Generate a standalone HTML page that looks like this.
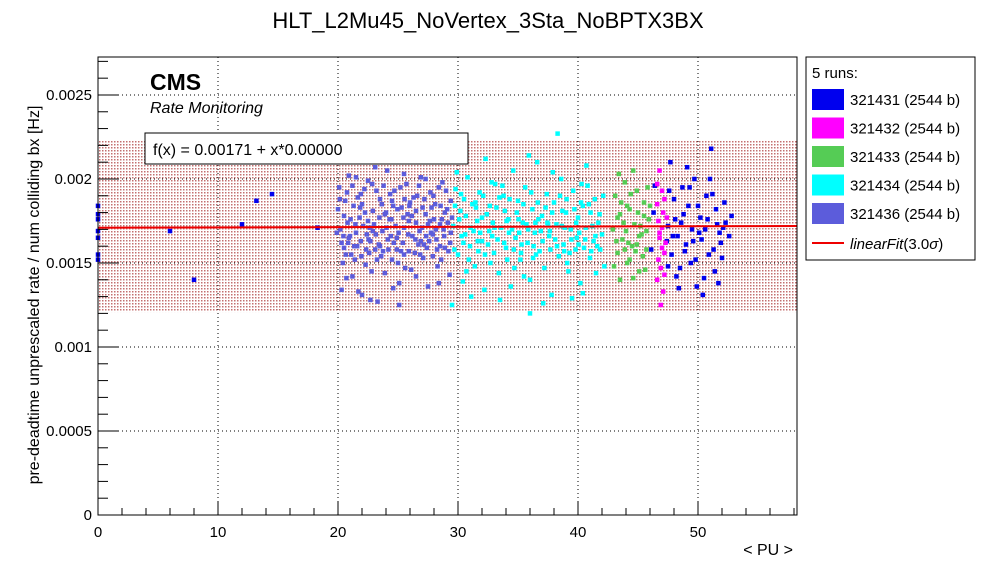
<!DOCTYPE html>
<html><head><meta charset="utf-8"><style>
html,body{margin:0;padding:0;background:#fff;}
svg{display:block;font-family:"Liberation Sans",sans-serif;}
</style></head><body>
<svg id="chart" width="996" height="572" viewBox="0 0 996 572">
<defs>
<pattern id="dots" width="3" height="3" patternUnits="userSpaceOnUse"><rect width="1.5" height="1.5" fill="#a33"/></pattern>
</defs>
<rect width="996" height="572" fill="#fff"/>
<text x="488" y="28" font-size="22" text-anchor="middle">HLT_L2Mu45_NoVertex_3Sta_NoBPTX3BX</text>
<g id="grid"></g>
<g id="band"></g>
<g id="marks"></g>
<g id="axes"></g>
<rect x="98" y="57" width="699" height="458" fill="none" stroke="#000"/>
<text x="150" y="90" font-size="23" font-weight="bold">CMS</text>
<text x="150" y="113" font-size="16" font-style="italic">Rate Monitoring</text>
<g><rect x="145" y="133" width="323" height="31" fill="#fff" stroke="#000"/>
<text x="153" y="155" font-size="16">f(x) = 0.00171 + x*0.00000</text></g>
<text transform="translate(39,295) rotate(-90)" font-size="16" text-anchor="middle">pre-deadtime unprescaled rate / num colliding bx [Hz]</text>
<text x="793" y="555" font-size="16" text-anchor="end">&lt; PU &gt;</text>
<g id="legend">
<rect x="806" y="57" width="169" height="203" fill="#fff" stroke="#000"/>
<text x="812" y="78" font-size="15">5 runs:</text>
</g>
</svg>
<script>
const xMin=0,xMax=58.25,yMin=0,yMax=2.726;
const xTicks=[0,10,20,30,40,50];
const yTicks=[0,0.5,1,1.5,2,2.5];
const yTickLabels=["0","0.0005","0.001","0.0015","0.002","0.0025"];
const runNames=["321431 (2544 b)","321432 (2544 b)","321433 (2544 b)","321434 (2544 b)","321436 (2544 b)"];
const runColors=["#0000ee","#ff00ff","#55cc55","#00ffff","#5c5cdb"];
const fitIntercept=1.71, fitSlope=0.0, fitBandLow=1.208, fitBandHigh=2.226;
// rates in units of 1e-3 Hz, flat [pu, rate, pu, rate ...]
const pts436=[20.1,1.95,20.3,1.62,20.5,1.78,20.7,1.41,20.9,2.02,21.1,1.55,21.3,1.84,21.5,1.68,21.7,1.33,21.9,1.91,22.1,1.72,22.3,1.49,22.5,1.99,22.7,1.63,22.9,1.81,23.1,1.58,23.3,1.27,23.5,1.88,23.7,1.69,23.9,1.44,24.1,2.05,24.3,1.76,24.5,1.52,24.7,1.93,24.9,1.65,25.1,1.38,25.3,1.83,25.5,1.71,25.7,1.97,25.9,1.57,26.1,1.46,26.3,1.89,26.5,1.74,26.7,1.61,26.9,2.01,27.1,1.53,27.3,1.79,27.5,1.36,27.7,1.92,27.9,1.67,28.1,1.85,28.3,1.48,28.5,1.73,28.7,1.98,28.9,1.59,29.1,1.82,29.3,1.43,20.2,1.70,20.6,1.87,21.0,1.66,21.4,1.52,21.8,1.77,22.2,1.94,22.6,1.56,23.0,1.73,23.4,1.61,23.8,1.96,24.2,1.58,24.6,1.84,25.0,1.50,25.4,1.62,25.8,1.79,26.2,1.66,26.6,1.90,27.0,1.71,27.4,1.59,27.8,1.83,28.2,1.64,28.6,1.52,29.0,1.93,29.4,1.68,20.4,1.50,20.8,1.74,21.2,1.96,21.6,1.60,22.0,1.85,22.4,1.67,22.8,1.45,23.2,1.93,23.6,1.54,24.0,1.80,24.4,1.66,24.8,1.72,25.2,1.95,25.6,1.47,26.0,1.86,26.4,1.56,26.8,1.69,27.2,1.88,27.6,1.63,28.0,1.76,28.4,1.95,28.8,1.70,29.2,1.57,20.0,1.82,21.2,1.42,22.0,1.31,23.1,2.07,24.6,1.35,25.5,2.03,26.5,1.42,27.3,2.00,28.4,1.38,29.5,1.77,20.5,1.59,21.5,2.01,22.5,1.75,23.5,1.60,24.5,1.87,25.5,1.55,26.5,1.81,27.5,1.73,28.5,1.60,29.4,1.87,20.9,1.65,21.9,1.63,22.9,1.69,23.9,1.79,24.9,1.58,25.9,1.75,26.9,1.63,27.9,1.54,28.9,1.80,20.3,1.34,22.7,1.28,25.1,1.25,19.9,1.68,
20.15,1.88,20.45,1.66,20.75,1.92,21.05,1.76,21.35,1.60,21.65,1.89,21.95,1.54,22.25,1.80,22.55,1.64,22.85,1.97,23.15,1.67,23.45,1.77,23.75,1.57,24.05,1.71,24.35,1.91,24.65,1.62,24.95,1.82,25.25,1.57,25.55,1.88,25.85,1.67,26.15,1.78,26.45,1.64,26.75,1.96,27.05,1.83,27.35,1.66,27.65,1.75,27.95,1.90,28.25,1.58,28.55,1.84,28.85,1.66,29.15,1.74,20.65,1.55,21.45,1.73,22.35,1.58,23.25,1.52,24.15,1.64,25.05,1.68,25.95,1.84,26.85,1.55,27.75,1.68,28.65,1.76,29.35,1.62,21.85,1.83,23.65,1.85,25.45,1.77,27.15,1.61,28.15,1.70,20.85,1.62,22.65,1.71,24.45,1.76];
const pts434=[29.6,1.72,29.8,1.94,30.0,1.55,30.2,1.81,30.4,1.39,30.6,1.67,30.8,2.01,31.0,1.60,31.2,1.85,31.4,1.48,31.6,1.75,31.8,1.92,32.0,1.63,32.2,1.34,32.4,1.79,32.6,1.69,32.8,1.98,33.0,1.56,33.2,1.83,33.4,1.44,33.6,1.71,33.8,1.90,34.0,1.59,34.2,1.76,34.4,1.36,34.6,2.05,34.8,1.65,35.0,1.87,35.2,1.52,35.4,1.74,35.6,1.95,35.8,1.62,36.0,1.40,36.2,1.82,36.4,1.68,36.6,2.10,36.8,1.57,37.0,1.78,37.2,1.47,37.4,1.91,37.6,1.66,37.8,1.31,38.0,1.86,38.2,1.73,38.4,1.54,38.6,2.00,38.8,1.61,39.0,1.80,39.2,1.45,39.4,1.70,39.6,1.93,39.8,1.58,40.0,1.77,40.2,1.38,40.4,1.84,40.6,1.64,40.8,1.96,41.0,1.53,41.2,1.72,41.4,1.88,41.6,1.60,41.8,1.79,42.0,1.67,42.2,1.48,29.7,1.58,30.1,1.76,30.5,1.88,30.9,1.52,31.3,1.69,31.7,1.57,32.1,1.90,32.5,1.61,32.9,1.74,33.3,1.64,33.7,1.96,34.1,1.52,34.5,1.70,34.9,1.80,35.3,1.61,35.7,1.73,36.1,1.92,36.5,1.55,36.9,1.69,37.3,1.83,37.7,1.58,38.1,1.64,38.5,1.90,38.9,1.71,39.3,1.56,39.7,1.82,40.1,1.68,40.5,1.59,40.9,1.85,41.3,1.63,41.7,1.74,42.1,1.90,29.9,2.04,31.1,1.30,32.3,2.12,33.5,1.28,34.7,1.47,35.9,2.14,37.1,1.26,38.3,2.27,39.5,1.29,40.7,2.08,30.3,1.66,31.5,1.83,32.7,1.50,33.9,1.81,35.1,1.68,36.3,1.60,37.5,1.73,38.7,1.81,39.9,1.65,41.1,1.57,30.7,1.45,32.0,1.77,33.1,1.97,34.3,1.88,35.5,1.42,36.7,1.76,37.9,2.04,39.1,1.50,40.3,1.97,41.5,1.44,29.5,1.25,36.0,1.20,40.4,1.32,
29.75,1.84,30.25,1.91,30.65,1.78,31.05,1.71,31.45,1.86,31.85,1.68,32.25,1.55,32.65,1.84,33.05,1.71,33.45,1.89,33.85,1.62,34.25,1.68,34.65,1.58,35.05,1.76,35.45,1.85,35.85,1.70,36.25,1.53,36.65,1.86,37.05,1.63,37.45,1.74,37.85,1.80,38.25,1.60,38.65,1.72,39.05,1.88,39.45,1.64,39.85,1.74,40.25,1.86,40.65,1.71,41.05,1.80,41.45,1.66,41.85,1.58,30.45,1.62,31.65,1.63,32.85,1.66,34.05,1.75,35.25,1.56,36.45,1.74,37.65,1.69,38.85,1.57,40.05,1.61];
const pts433=[42.9,1.70,43.1,1.90,43.3,1.56,43.5,1.79,43.7,1.64,43.9,1.98,44.1,1.50,44.3,1.82,44.5,1.60,44.7,1.73,44.9,1.93,45.1,1.45,45.3,1.67,45.5,1.86,45.7,1.58,45.9,1.76,43.0,1.48,43.4,2.03,43.8,1.74,44.2,1.62,44.6,1.41,45.0,1.80,45.4,1.54,45.8,1.95,43.2,1.63,43.6,1.86,44.0,1.69,44.4,1.91,44.8,1.57,45.2,1.72,45.6,1.46,46.0,1.84,43.5,1.40,44.3,1.52,45.1,1.66,44.6,2.05,43.9,1.58,45.7,1.69,43.3,1.77,44.1,1.84,44.9,1.61,45.5,1.78];
const pts432=[46.6,1.85,46.8,1.65,47.0,1.93,47.2,1.56,46.7,1.75,46.9,1.47,47.1,1.80,47.3,1.62,46.6,1.40,46.8,2.05,47.0,1.71,47.2,1.88,46.7,1.52,47.1,1.33,47.4,1.77,46.9,1.25,46.6,1.97,47.2,1.43,46.8,1.68,47.0,1.59];
const pts431=[47.5,1.72,47.8,1.55,48.0,1.88,48.3,1.66,48.5,1.47,48.8,1.79,49.0,1.61,49.3,1.95,49.5,1.70,49.8,1.52,50.0,1.84,50.3,1.64,50.5,1.41,50.8,1.76,51.0,2.00,51.3,1.58,51.5,1.82,51.8,1.68,52.0,1.53,52.3,1.74,52.6,1.66,47.6,1.93,47.9,1.66,48.2,1.42,48.6,1.74,48.9,1.57,49.2,1.84,49.6,1.63,49.9,1.36,50.2,1.77,50.6,1.70,50.9,1.55,51.2,1.91,51.6,1.73,51.9,1.62,52.2,1.86,47.4,1.63,48.1,1.76,48.7,1.95,49.4,1.50,50.1,1.68,50.7,1.90,51.4,1.45,52.1,1.71,47.7,2.10,49.1,2.07,50.4,1.31,51.1,2.18,51.7,1.38,52.8,1.78,48.4,1.35,49.7,2.00,46.3,1.80,46.1,1.58,46.4,1.96,47.5,1.48,0,1.84,0,1.79,0,1.76,0,1.69,0,1.65,0,1.55,0,1.52,6,1.69,8,1.40,12,1.73,13.2,1.87,14.5,1.91,18.3,1.71];
const seriesPts=[pts431,pts432,pts433,pts434,pts436];
const NS="http://www.w3.org/2000/svg";
const L=98,R=797,T=57,B=515;
function xs(v){return L+(v-xMin)/(xMax-xMin)*(R-L);}
function ys(v){return B-(v-yMin)/(yMax-yMin)*(B-T);}
function mk(tag,attrs,parent){const e=document.createElementNS(NS,tag);for(const k in attrs)e.setAttribute(k,attrs[k]);parent.appendChild(e);return e;}
const grid=document.getElementById('grid'),axes=document.getElementById('axes'),band=document.getElementById('band'),marks=document.getElementById('marks');
xTicks.forEach(t=>{if(t>0){const g=mk('line',{x1:xs(t),x2:xs(t),y1:T,y2:B,stroke:'#000','stroke-dasharray':'1,3','stroke-width':1},grid);

}
const tl=mk('line',{x1:xs(t),x2:xs(t),y1:B,y2:B-13,stroke:'#000'},axes);


const lb=mk('text',{x:xs(t),y:B+22,'font-size':15,'text-anchor':'middle'},axes);lb.textContent=t;

});
for(let m=0;m<=xMax;m+=2){if(m%10)mk('line',{x1:xs(m),x2:xs(m),y1:B,y2:B-7,stroke:'#000'},axes);}
yTicks.forEach((t,i)=>{if(t>0){const g=mk('line',{x1:L,x2:R,y1:ys(t),y2:ys(t),stroke:'#000','stroke-dasharray':'1,3','stroke-width':1},grid);

}
mk('line',{x1:L,x2:L+20,y1:ys(t),y2:ys(t),stroke:'#000'},axes);
const lb=mk('text',{x:L-6,y:ys(t)+5,'font-size':15,'text-anchor':'end'},axes);lb.textContent=yTickLabels[i];

});
for(let m=0;m<=yMax;m+=0.1){if(Math.abs(m*2-Math.round(m*2))>0.01)mk('line',{x1:L,x2:L+10,y1:ys(m),y2:ys(m),stroke:'#000'},axes);}
const br=mk('rect',{x:L,y:ys(fitBandHigh),width:R-L,height:ys(fitBandLow)-ys(fitBandHigh),fill:'url(#dots)','fill-opacity':0.7},band);


seriesPts.forEach((p,s)=>{for(let i=0;i+1<p.length;i+=2){const r=mk('rect',{x:xs(p[i])-2.25,y:ys(p[i+1])-2.25,width:4.5,height:4.5,fill:runColors[s]},marks);

}});
const fl=mk('line',{x1:L,x2:R,y1:ys(fitIntercept+fitSlope*xMin),y2:ys(fitIntercept+fitSlope*xMax+0.01),stroke:'#ee0000','stroke-width':2},marks);


const lg=document.getElementById('legend');
runNames.forEach((n,i)=>{const y=89+i*28.5;
const sw=mk('rect',{x:812,y:y,width:32,height:21,fill:runColors[i]},lg);


const t=mk('text',{x:850,y:y+16,'font-size':15},lg);t.textContent=n;

});
const ll=mk('line',{x1:812,x2:844,y1:243,y2:243,stroke:'#ee0000','stroke-width':2},lg);


const lt=mk('text',{x:850,y:249,'font-size':15},lg);
lt.innerHTML='<tspan font-style="italic">linearFit</tspan>(3.0<tspan font-style="italic">σ</tspan>)';


</script>
</body></html>
